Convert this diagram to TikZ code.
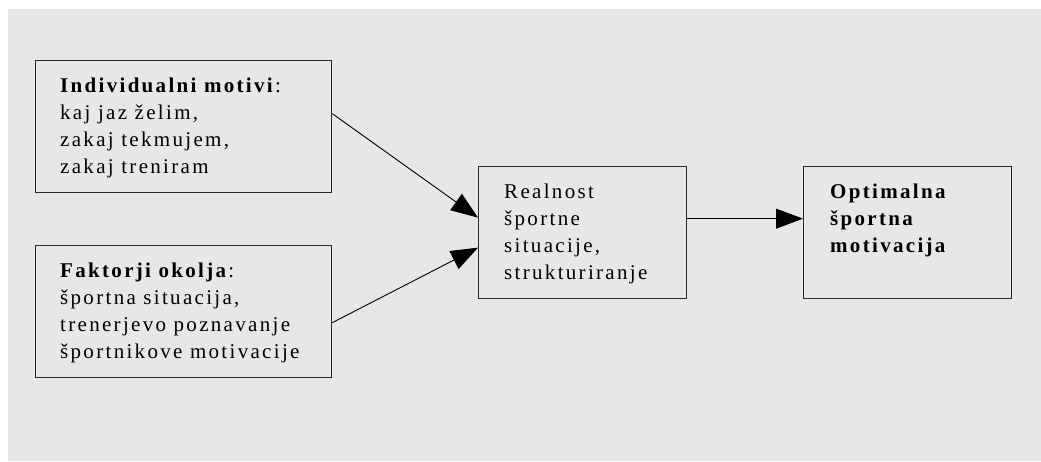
\documentclass[tikz,border=0pt]{standalone}
\usepackage{fontspec}
\setmainfont{Liberation Serif}[LetterSpace=11]
\usepackage{tikz}
\usetikzlibrary{positioning,calc,arrows.meta}
\definecolor{bggray}{HTML}{E7E7E7}
\definecolor{edgegray}{HTML}{2A2A2A}

\begin{document}
\begin{tikzpicture}[x=1pt, y=-1pt,
    box/.style = {draw=edgegray, line width=1.3pt, anchor=north west, inner sep=0pt},
    txt/.style = {anchor=north west, align=left, inner sep=0pt, font=\fontsize{21}{27}\selectfont},
    arr/.style = {line width=0.9pt, -{Triangle[length=27pt, width=20pt]}}]
  \useasboundingbox (0,0) rectangle (1041,461);
  \fill[bggray] (8,9) rectangle (1041,461);

  \node[box, minimum width=296pt, minimum height=132pt] (indiv) at (35,60) {};
  \node[box, minimum width=296pt, minimum height=132pt] (okolje) at (35,245) {};
  \node[box, minimum width=208pt, minimum height=132pt] (real) at (478,166) {};
  \node[box, minimum width=208pt, minimum height=132pt] (opt) at (803,166) {};

  \node[txt] (indiv-t) at ($(indiv.north west)+(25,18)$)
    {\textbf{Individualni motivi}:\\kaj jaz želim,\\zakaj tekmujem,\\zakaj treniram};
  \node[txt] (okolje-t) at ($(okolje.north west)+(25,18)$)
    {\textbf{Faktorji okolja}:\\športna situacija,\\trenerjevo poznavanje\\športnikove motivacije};
  \node[txt] (real-t) at ($(real.north west)+(26,18)$)
    {Realnost\\športne\\situacije,\\strukturiranje};
  \node[txt, font=\fontsize{21}{27}\selectfont\bfseries] (opt-t) at ($(opt.north west)+(27,18)$)
    {Optimalna\\športna\\motivacija};

  \draw[arr] ($(indiv.east)+(0,-13)$) -- ($(real.west)+(0,-15)$);
  \draw[arr] ($(okolje.east)+(0,11)$) -- ($(real.west)+(0,15)$);
  \draw[arr] ($(real.east)+(0,-14)$) -- ($(opt.west)+(0,-14)$);
\end{tikzpicture}
\end{document}
